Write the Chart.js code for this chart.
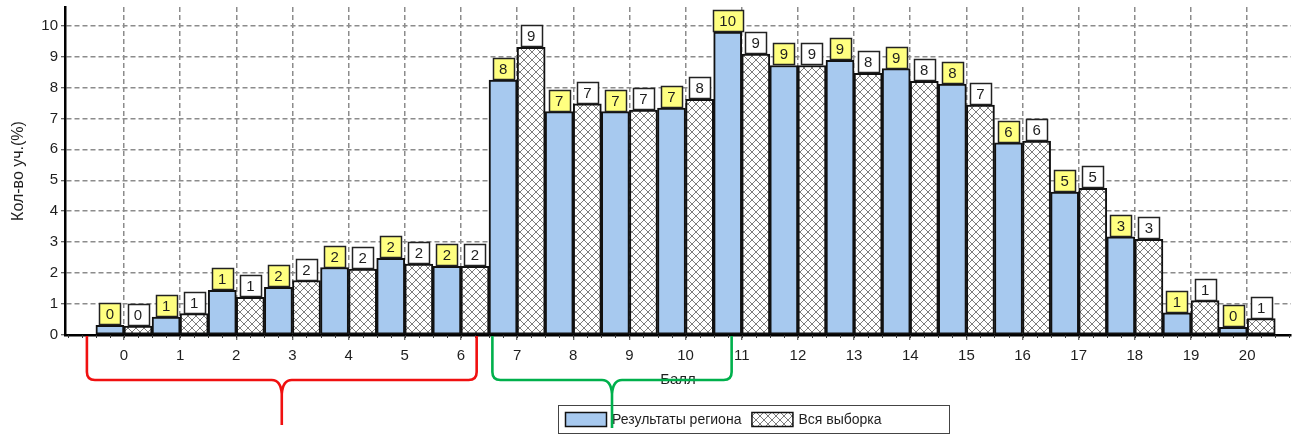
<!DOCTYPE html>
<html>
<head>
<meta charset="utf-8">
<script src="https://cdn.jsdelivr.net/npm/chart.js@4.4.1/dist/chart.umd.min.js"></script>
<style>
  html, body { margin: 0; padding: 0; background: #fff; }
  #wrap { width: 1292px; height: 434px; }
</style>
</head>
<body>
<div id="wrap"><canvas id="chart" width="1292" height="434"></canvas></div>
<script>
const scores = [0, 1, 2, 3, 4, 5, 6, 7, 8, 9, 10, 11, 12, 13, 14, 15, 16, 17, 18, 19, 20];
const regionValues = [0.31, 0.58, 1.44, 1.54, 2.18, 2.48, 2.22, 8.24, 7.22, 7.22, 7.33, 9.79, 8.71, 8.88, 8.61, 8.11, 6.21, 4.62, 3.17, 0.72, 0.25];
const sampleValues = [0.29, 0.69, 1.22, 1.76, 2.13, 2.29, 2.22, 9.30, 7.47, 7.27, 7.62, 9.08, 8.71, 8.46, 8.20, 7.43, 6.27, 4.74, 3.09, 1.11, 0.53];
const yTicks = [0, 1, 2, 3, 4, 5, 6, 7, 8, 9, 10];

const FONT = "'Liberation Sans', Arial, sans-serif";
const TEXT = '#1e1e1e';
const BLUE = '#a7c9ef';

// crosshatch fill for the whole-sample bars
const makeHatch = () => {
  const c = document.createElement('canvas');
  c.width = 8;
  c.height = 8;
  const g = c.getContext('2d');
  g.fillStyle = '#fff';
  g.fillRect(0, 0, 8, 8);
  g.strokeStyle = '#7d7d7d';
  g.lineWidth = 1;
  g.beginPath();
  g.moveTo(-1, -1); g.lineTo(9, 9);
  g.moveTo(9, -1); g.lineTo(-1, 9);
  g.stroke();
  return g.createPattern(c, 'repeat');
};
const hatch = makeHatch();

// value boxes above every bar
const labelBoxes = {
  id: 'labelBoxes',
  afterDatasetsDraw(chart) {
    const ctx = chart.ctx;
    ctx.save();
    ctx.font = '15px ' + FONT;
    chart.data.datasets.forEach((ds, di) => {
      const meta = chart.getDatasetMeta(di);
      meta.data.forEach((bar, i) => {
        const text = String(Math.round(ds.data[i].y));
        const w = Math.round(ctx.measureText(text).width + 13);
        const h = 21;
        const x = Math.round(bar.x - w / 2) + 0.5;
        const y = Math.round(bar.y - h - 1) + 0.5;
        ctx.fillStyle = di === 0 ? '#ffff80' : '#fff';
        ctx.fillRect(x, y, w, h);
        ctx.lineWidth = 1.5;
        ctx.strokeStyle = '#222';
        ctx.strokeRect(x, y, w, h);
        ctx.fillStyle = TEXT;
        ctx.textAlign = 'center';
        ctx.textBaseline = 'middle';
        ctx.fillText(text, bar.x, y + h / 2 + 1);
      });
    });
    ctx.restore();
  }
};

// minor ticks, legend box and the two hand-drawn brackets
const extras = {
  id: 'extras',
  afterDraw(chart) {
    const ctx = chart.ctx;
    const xs = chart.scales.x;
    const area = chart.chartArea;
    ctx.save();

    // minor ticks under the x axis
    ctx.strokeStyle = '#333';
    ctx.lineWidth = 1;
    for (let v = -1; v <= 21; v += 0.25) {
      const px = xs.getPixelForValue(v);
      if (px <= area.left + 1 || px > area.right) continue;
      ctx.beginPath();
      ctx.moveTo(Math.round(px) + 0.5, area.bottom);
      ctx.lineTo(Math.round(px) + 0.5, area.bottom + 3);
      ctx.stroke();
    }

    // legend
    ctx.font = '14px ' + FONT;
    ctx.fillStyle = '#fff';
    ctx.fillRect(558, 405, 391, 28);
    ctx.strokeStyle = '#444';
    ctx.lineWidth = 1;
    ctx.strokeRect(558.5, 405.5, 391, 28);
    let lx = 565;
    chart.data.datasets.forEach((ds) => {
      ctx.fillStyle = ds.backgroundColor;
      ctx.fillRect(lx, 412, 42, 15);
      ctx.strokeStyle = '#111';
      ctx.lineWidth = 1.5;
      ctx.strokeRect(lx + 0.5, 412.5, 41, 14);
      ctx.fillStyle = TEXT;
      ctx.textAlign = 'left';
      ctx.textBaseline = 'middle';
      ctx.fillText(ds.label, lx + 47, 420);
      lx += 47 + ctx.measureText(ds.label).width + 10;
    });

    // brackets
    const brace = (v1, v2, vc, depth, color) => {
      const x1 = xs.getPixelForValue(v1);
      const x2 = xs.getPixelForValue(v2);
      const cx = xs.getPixelForValue(vc);
      const top = area.bottom + 1;
      const hy = 380;
      ctx.strokeStyle = color;
      ctx.lineWidth = 2.6;
      ctx.lineJoin = 'round';
      ctx.beginPath();
      ctx.moveTo(x1, top);
      ctx.lineTo(x1, hy - 8);
      ctx.quadraticCurveTo(x1, hy, x1 + 8, hy);
      ctx.lineTo(cx - 10, hy);
      ctx.quadraticCurveTo(cx - 1, hy, cx, hy + 14);
      ctx.lineTo(cx, depth);
      ctx.moveTo(cx, hy + 14);
      ctx.quadraticCurveTo(cx + 1, hy, cx + 10, hy);
      ctx.lineTo(x2 - 8, hy);
      ctx.quadraticCurveTo(x2, hy, x2, hy - 8);
      ctx.lineTo(x2, top);
      ctx.stroke();
    };
    brace(-0.66, 6.28, 2.81, 425, '#f01010');
    brace(6.56, 10.82, 8.69, 428, '#00b04c');

    ctx.restore();
  }
};

const gridColor = '#8c8c8c';

new Chart(document.getElementById('chart'), {
  type: 'bar',
  data: {
    datasets: [
      {
        label: 'Результаты региона',
        data: scores.map((s, i) => ({ x: s, y: regionValues[i] })),
        backgroundColor: BLUE,
        borderColor: '#111',
        borderWidth: 2,
        borderSkipped: false
      },
      {
        label: 'Вся выборка',
        data: scores.map((s, i) => ({ x: s, y: sampleValues[i] })),
        backgroundColor: hatch,
        borderColor: '#111',
        borderWidth: 2,
        borderSkipped: false
      }
    ]
  },
  options: {
    responsive: false,
    animation: false,
    devicePixelRatio: 1,
    layout: { padding: { top: 7, right: 1, left: 0, bottom: 0 } },
    categoryPercentage: 1,
    barPercentage: 1,
    plugins: {
      legend: { display: false },
      tooltip: { enabled: false }
    },
    scales: {
      x: {
        type: 'linear',
        min: -1.05,
        max: 20.78,
        offset: false,
        afterBuildTicks: (s) => { s.ticks = scores.map((v) => ({ value: v })); },
        afterFit: (s) => { s.height = 99; s.paddingLeft = 0; s.paddingRight = 0; },
        ticks: { color: TEXT, font: { family: FONT, size: 15 }, padding: 7, maxRotation: 0, autoSkip: false },
        grid: { offset: false, color: gridColor, lineWidth: 1.5, tickLength: 5, tickColor: '#333', tickWidth: 1 },
        border: { color: '#000', width: 2.5, dash: [5, 3] },
        title: { display: true, text: 'Балл', color: TEXT, font: { family: FONT, size: 15 }, padding: { top: 0, bottom: 45 } }
      },
      y: {
        min: 0,
        max: 10.6,
        afterBuildTicks: (s) => { s.ticks = yTicks.map((v) => ({ value: v })); },
        afterFit: (s) => { s.width = 65; s.paddingTop = 0; s.paddingBottom = 0; },
        ticks: { color: TEXT, font: { family: FONT, size: 15 }, padding: 3 },
        grid: { color: gridColor, lineWidth: 1.5, tickLength: 4, tickColor: '#333', tickWidth: 1 },
        border: { color: '#000', width: 2.5, dash: [5, 3] },
        title: { display: true, text: 'Кол-во уч.(%)', color: TEXT, font: { family: FONT, size: 16 }, padding: { top: 9, bottom: 0 } }
      }
    }
  },
  plugins: [labelBoxes, extras]
});
</script>
</body>
</html>
